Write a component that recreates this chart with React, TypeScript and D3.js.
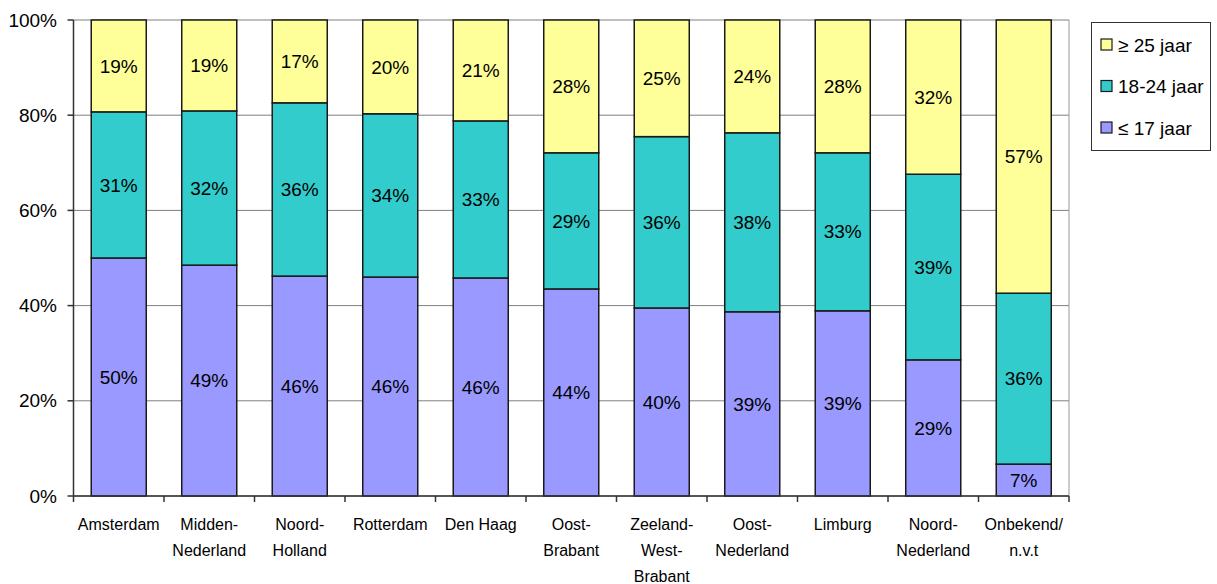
import * as d3 from 'd3';

// regions along the x axis, multi-line labels split on '\n'
const regions = [
  'Amsterdam',
  'Midden-\nNederland',
  'Noord-\nHolland',
  'Rotterdam',
  'Den Haag',
  'Oost-\nBrabant',
  'Zeeland-\nWest-\nBrabant',
  'Oost-\nNederland',
  'Limburg',
  'Noord-\nNederland',
  'Onbekend/\nn.v.t',
];

// shares in percent
const upTo17 = [50.0, 48.5, 46.2, 46.0, 45.8, 43.5, 39.5, 38.7, 38.9, 28.6, 6.7];
const from18to24 = [30.7, 32.4, 36.4, 34.3, 33.0, 28.6, 36.0, 37.6, 33.2, 39.0, 35.9];
const from25 = [19.3, 19.1, 17.4, 19.7, 21.2, 27.9, 24.5, 23.7, 27.9, 32.4, 57.4];

const seriesNames = ['≤ 17 jaar', '18-24 jaar', '≥ 25 jaar'];
const seriesColors = ['#9999FF', '#33CCCC', '#FFFF99'];
const yTicks = [0, 20, 40, 60, 80, 100];

const W = 1217;
const H = 584;
const font = 'Arial, "Liberation Sans", sans-serif';

export default function App() {
  const left = 73.5;
  const right = 1069;
  const top = 20;
  const bottom = 496;

  const x = d3
    .scaleBand<number>()
    .domain(d3.range(regions.length))
    .range([left, right])
    .paddingInner(0.392)
    .paddingOuter(0.196);
  const y = d3.scaleLinear().domain([0, 100]).range([bottom, top]);

  const table = regions.map((_, i) => ({
    i,
    a: upTo17[i],
    b: from18to24[i],
    c: from25[i],
  }));
  const stacked = d3.stack<{ i: number; a: number; b: number; c: number }>().keys(['a', 'b', 'c'])(table);

  const step = x.step();
  const boundaries = d3.range(regions.length + 1).map((k) => left + k * step);

  return (
    <svg
      width={W}
      height={H}
      style={{ position: 'absolute', left: 0, top: 0, background: '#fff' }}
      fontFamily={font}
    >
      {/* gridlines */}
      {yTicks.map((t) => (
        <line key={t} x1={left} x2={right} y1={y(t)} y2={y(t)} stroke='#7f7f7f' strokeWidth={1} />
      ))}
      <line x1={right} x2={right} y1={top} y2={bottom} stroke='#9a9a9a' strokeWidth={1} />

      {/* bars */}
      {stacked.map((layer, si) => (
        <g key={si}>
          {layer.map((d, i) => {
            const y0 = y(d[0]);
            const y1 = y(d[1]);
            const v = d[1] - d[0];
            return (
              <g key={i}>
                <rect
                  x={x(i)}
                  y={y1}
                  width={x.bandwidth()}
                  height={y0 - y1}
                  fill={seriesColors[si]}
                  stroke='#1a1a1a'
                  strokeWidth={1.5}
                />
                <text
                  x={(x(i) ?? 0) + x.bandwidth() / 2}
                  y={(y0 + y1) / 2}
                  dy='0.35em'
                  textAnchor='middle'
                  fontSize={19}
                  fill='#000'
                >
                  {Math.round(v)}%
                </text>
              </g>
            );
          })}
        </g>
      ))}

      {/* y axis */}
      <line x1={left} x2={left} y1={top} y2={bottom} stroke='#333' strokeWidth={1.5} />
      {yTicks.map((t) => (
        <g key={t}>
          <line x1={left - 6} x2={left} y1={y(t)} y2={y(t)} stroke='#333' strokeWidth={1.5} />
          <text x={57} y={y(t)} dy='0.35em' textAnchor='end' fontSize={19} fill='#000'>
            {t}%
          </text>
        </g>
      ))}

      {/* x axis */}
      <line x1={left} x2={right} y1={bottom} y2={bottom} stroke='#333' strokeWidth={1.5} />
      {boundaries.map((bx, k) => (
        <line key={k} x1={bx} x2={bx} y1={bottom} y2={bottom + 6} stroke='#333' strokeWidth={1.5} />
      ))}
      {regions.map((r, i) => (
        <text
          key={i}
          x={(x(i) ?? 0) + x.bandwidth() / 2}
          y={530}
          textAnchor='middle'
          fontSize={16}
          fill='#000'
        >
          {r.split('\n').map((line, li) => (
            <tspan key={li} x={(x(i) ?? 0) + x.bandwidth() / 2} dy={li === 0 ? 0 : 26}>
              {line}
            </tspan>
          ))}
        </text>
      ))}

      {/* legend */}
      <rect x={1091.5} y={22.5} width={119} height={128} fill='#fff' stroke='#333' strokeWidth={1} />
      {[2, 1, 0].map((si, k) => {
        const cy = 45 + k * 41.5;
        return (
          <g key={si}>
            <rect x={1101} y={cy - 6} width={11} height={11} fill={seriesColors[si]} stroke='#1a1a1a' strokeWidth={1.2} />
            <text x={1118} y={cy} dy='0.35em' fontSize={19} fill='#000'>
              {seriesNames[si]}
            </text>
          </g>
        );
      })}
    </svg>
  );
}
